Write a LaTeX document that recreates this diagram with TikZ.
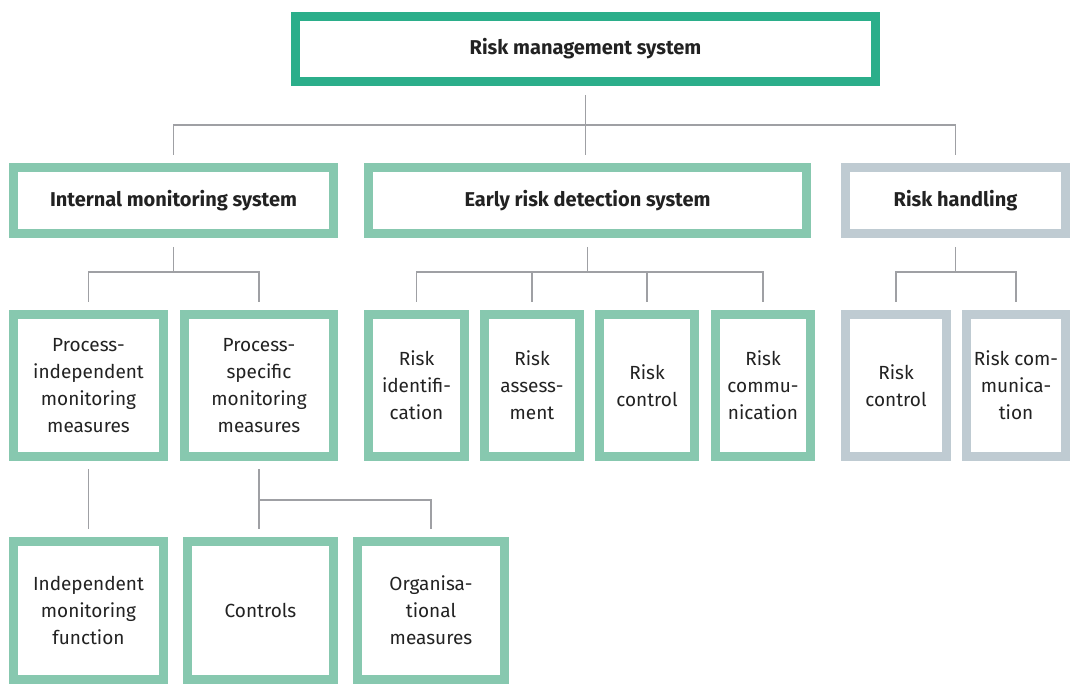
\documentclass[tikz,border=0pt]{standalone}
\usepackage{fontspec}
\setmainfont{Fira Sans}
\usetikzlibrary{calc}
\definecolor{dkgreen}{HTML}{2BAE8A}
\definecolor{ltgreen}{HTML}{87C8AF}
\definecolor{ltgrey}{HTML}{BFCBD2}
\definecolor{conngrey}{HTML}{9FA0A4}
\definecolor{txt}{HTML}{222222}
\tikzset{
  bx/.style={draw=ltgreen, line width=9pt, fill=white, inner sep=0pt, align=center,
    text=txt, font=\fontsize{19}{27}\selectfont},
  hd/.style={bx, font=\fontsize{20}{27}\selectfont\bfseries},
  gbx/.style={bx, draw=ltgrey},
  conn/.style={draw=conngrey, line width=1.6pt},
}
\begin{document}
\begin{tikzpicture}[x=1pt,y=-1pt]
\useasboundingbox (0,0) rectangle (1070,684);
% top
\node[hd, draw=dkgreen, minimum width=580pt, minimum height=65pt] (top) at (585.5,49) {Risk management system};
% row 2
\node[hd, minimum width=320pt, minimum height=66pt] (ims) at (173.5,200.5) {Internal monitoring system};
\node[hd, minimum width=438pt, minimum height=66pt] (erds) at (587.5,200.5) {Early risk detection system};
\node[hd, draw=ltgrey, minimum width=220pt, minimum height=66pt] (rh) at (955.5,200.5) {Risk handling};
% row 3
\node[bx, minimum width=150pt, minimum height=142pt] (pi) at (88.5,385.5) {Process-\\independent\\monitoring\\measures};
\node[bx, minimum width=149pt, minimum height=142pt] (ps) at (259,385.5) {Process-\\specific\\monitoring\\measures};
\node[bx, minimum width=96pt, minimum height=142pt] (ri) at (416.5,385.5) {Risk\\identifi-\\cation};
\node[bx, minimum width=95pt, minimum height=142pt] (ra) at (532,385.5) {Risk\\assess-\\ment};
\node[bx, minimum width=95pt, minimum height=142pt] (rc) at (647,385.5) {Risk\\control};
\node[bx, minimum width=95pt, minimum height=142pt] (rcm) at (763,385.5) {Risk\\commu-\\nication};
\node[gbx, minimum width=101pt, minimum height=142pt] (rc2) at (896,385.5) {Risk\\control};
\node[gbx, minimum width=99pt, minimum height=142pt] (rcm2) at (1016,385.5) {Risk com-\\munica-\\tion};
% row 4
\node[bx, minimum width=150pt, minimum height=138pt] (imf) at (88.5,610.5) {Independent\\monitoring\\function};
\node[bx, minimum width=146pt, minimum height=138pt] (ctl) at (260.5,610.5) {Controls};
\node[bx, minimum width=147pt, minimum height=138pt] (org) at (431,610.5) {Organisa-\\tional\\measures};
% connectors: top
\coordinate (h1) at ([yshift=-39pt]top.south);
\draw[conn] ([yshift=-9pt]top.south) -- ([yshift=8pt]top.south |- erds.north);
\draw[conn] ([yshift=8pt]ims.north) -- (ims.north |- h1) -- (rh.north |- h1) -- ([yshift=8pt]rh.north);
% internal monitoring
\coordinate (h2) at ([yshift=-34pt]ims.south);
\draw[conn] ([yshift=-9pt]ims.south) -- (h2);
\draw[conn] ([yshift=8pt]pi.north) -- (pi.north |- h2) -- (ps.north |- h2) -- ([yshift=8pt]ps.north);
% early risk detection
\coordinate (h3) at ([yshift=-34pt]erds.south);
\draw[conn] ([yshift=-9pt]erds.south) -- (h3);
\draw[conn] ([yshift=8pt]ri.north) -- (ri.north |- h3) -- (rcm.north |- h3) -- ([yshift=8pt]rcm.north);
\draw[conn] ([yshift=8pt]ra.north) -- (ra.north |- h3);
\draw[conn] ([yshift=8pt]rc.north) -- (rc.north |- h3);
% risk handling
\coordinate (h4) at ([yshift=-34pt]rh.south);
\draw[conn] ([yshift=-9pt]rh.south) -- (h4);
\draw[conn] ([yshift=8pt]rc2.north) -- (rc2.north |- h4) -- (rcm2.north |- h4) -- ([yshift=8pt]rcm2.north);
% row 3 to row 4
\draw[conn] ([yshift=-8pt]pi.south) -- ([yshift=8pt]pi.south |- imf.north);
\coordinate (h5) at ([yshift=-39pt]ps.south);
\draw[conn] ([yshift=-8pt]ps.south) -- ([yshift=8pt]ps.south |- ctl.north);
\draw[conn] (h5) -- (org.north |- h5) -- ([yshift=8pt]org.north);
\end{tikzpicture}
\end{document}
